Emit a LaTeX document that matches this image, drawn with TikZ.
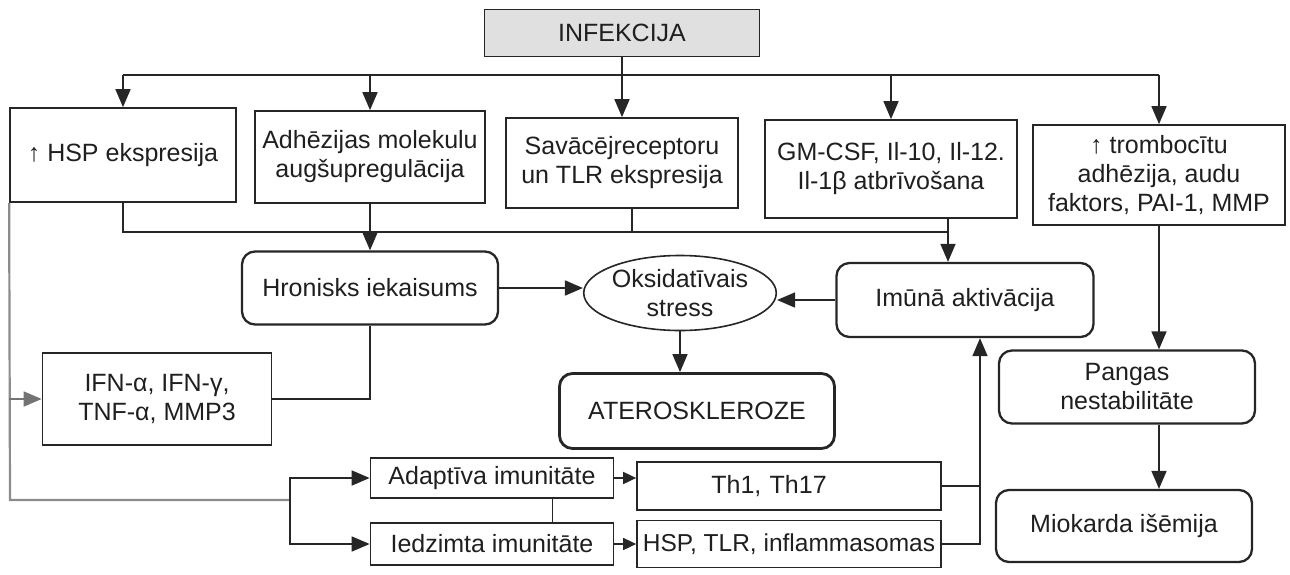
\documentclass[tikz,border=0pt]{standalone}
\usepackage{fontspec}
\setmainfont{Liberation Sans}
\usetikzlibrary{arrows.meta,shapes.geometric}
\begin{document}
\begin{tikzpicture}[x=1pt,y=-1pt,
  txt/.style={font=\fontsize{25}{29}\selectfont, text=black!88},
  box/.style={txt, draw=black!85, line width=1.7pt, align=center, inner sep=2pt},
  rbox/.style={box, rounded corners=13pt, line width=2.3pt},
  ell/.style={txt, draw=black!85, line width=1.6pt, ellipse, align=center, inner sep=0pt, minimum width=188pt, minimum height=75pt},
  con/.style={draw=black!85, line width=1.7pt},
  arr/.style={con, -{Triangle[length=18pt,width=15pt]}},
  sarr/.style={con, -{Triangle[length=13pt,width=12pt]}},
  side/.style={draw=black!45, line width=2.2pt}]
\useasboundingbox (0,0) rectangle (1290,574);

% nodes
\node[box, fill=black!12, minimum width=275pt, minimum height=47pt] (inf) at (622,33) {INFEKCIJA};
\node[box, minimum width=226pt, minimum height=94pt] (hsp) at (123,155) {↑ HSP ekspresija};
\node[box, minimum width=230pt, minimum height=92pt] (adh) at (370,157) {Adhēzijas molekulu\\augšupregulācija};
\node[box, minimum width=232pt, minimum height=90pt] (sav) at (622,163) {Savācējreceptoru\\un TLR ekspresija};
\node[box, minimum width=252pt, minimum height=98pt] (gm) at (891,169) {GM-CSF, Il-10, Il-12.\\Il-1β atbrīvošana};
\node[box, minimum width=252pt, minimum height=100pt] (trb) at (1159,175) {↑ trombocītu\\adhēzija, audu\\faktors, PAI-1, MMP};

\node[rbox, minimum width=256pt, minimum height=73pt] (hron) at (370,288) {Hronisks iekaisums};
\node[ell] (oks) at (680,293) {Oksidatīvais\\stress};
\node[rbox, minimum width=257pt, minimum height=74pt] (imu) at (965,300) {Imūnā aktivācija};
\node[rbox, line width=2.8pt, minimum width=275pt, minimum height=75pt] (ate) at (697,411) {ATEROSKLEROZE};
\node[box, minimum width=229pt, minimum height=92pt] (ifn) at (157,399) {IFN-α, IFN-γ,\\TNF-α, MMP3};
\node[rbox, minimum width=256pt, minimum height=73pt] (pan) at (1127,387) {Pangas\\nestabilitāte};
\node[rbox, minimum width=256pt, minimum height=72pt] (mio) at (1124,526) {Miokarda išēmija};
\node[box, minimum width=243pt, minimum height=40pt] (ada) at (492,478) {Adaptīva imunitāte};
\node[box, minimum width=243pt, minimum height=42pt] (ied) at (492,544) {Iedzimta imunitāte};
\node[box, minimum width=304pt, minimum height=48pt, text width=270pt] (th) at (789,486) {\hspace*{-40pt}\centering Th1, Th17};
\node[box, font=\fontsize{24.5}{29}\selectfont, minimum width=304pt, minimum height=47pt] (tlr) at (789,544) {HSP, TLR, inflammasomas};

% helper coordinates
\coordinate (top) at (0,75);
\coordinate (b2) at (948,232);
\coordinate (sx) at (632,232);
\coordinate (L) at (10,500);
\coordinate (B) at (290,500);
\coordinate (R) at (980,0);

% top distribution
\draw[con] (hsp.north |- top) -- (trb.north |- top);
\draw[arr] (inf.south) -- (sav.north);
\draw[arr] (hsp.north |- top) -- (hsp.north);
\draw[arr] (adh.north |- top) -- (adh.north);
\draw[arr] (gm.north |- top) -- (gm.north);
\draw[arr] (trb.north |- top) -- (trb.north);

% second bar
\draw[con] (hsp.south) |- (b2);
\draw[con] (sx |- sav.south) -- (sx);
\draw[arr] (adh.south) -- (hron.north);
\draw[arr] (b2 |- gm.south) -- (b2 |- imu.north);

% middle
\draw[arr] (hron.east) -- (hron.east -| oks.west);
\draw[arr] (imu.west) -- (imu.west -| oks.east);
\draw[arr] (oks.south) -- (oks.south |- ate.north);
\draw[con] (hron.south) |- (ifn.east);

% left side
\draw[side] (hsp.south west) -- (L) -- (B);
\draw[arr, draw=black!55] (hsp.south west |- ifn.west) -- (ifn.west);
\draw[arr] (B) |- (ada.west);
\draw[arr] (B) |- (ied.west);
\draw[con, line width=1pt] (552,0 |- ada.south) -- (552,0 |- ied.north);
\draw[sarr] (ada.east) -- (ada.east -| th.west);
\draw[sarr] (ied.east) -- (ied.east -| tlr.west);

% right bottom
\draw[con] (th.east) -- (th.east -| R);
\draw[arr] (tlr.east) -| (imu.south -| R);

% right column
\draw[arr] (trb.south) -- (trb.south |- pan.north);
\draw[arr] (trb.south |- pan.south) -- (trb.south |- mio.north);
\end{tikzpicture}
\end{document}
